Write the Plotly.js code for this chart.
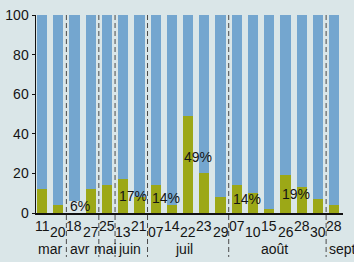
<!DOCTYPE html>
<html>
<head>
<meta charset="utf-8">
<script src="https://cdn.plot.ly/plotly-3.0.1.min.js"></script>
<style>
html,body{margin:0;padding:0;background:#dae6e8;}
#chart{width:354px;height:262px;}
</style>
</head>
<body>
<div id="chart"></div>
<script>
// Day labels for each bar
const dayLabels = ['11','20','18','27','25','13','21','07','14','22','23','29','07','10','15','26','28','30','28'];
// Green (bottom) share, %
const greenValues = [12,4,6,12,14,17,8,14,4,49,20,8,14,10,2,19,13,7,4];
// Blue (top) share, %
const blueValues = [88,96,94,88,86,83,92,86,96,51,80,92,86,90,98,81,87,93,96];
// Month labels and the bar position they sit under
const monthLabels = ['mar','avr','mai','juin','juil','août','sept'];
const monthPos = [0.5,2.36,3.93,5.41,8.76,14.32,17.56];
// Month separators (between bars)
const separators = [1.5,3.5,4.5,6.5,11.5,17.5];
// Bars carrying a percentage label
const labelledBars = [2,5,7,9,12,15];
const labelY = [3.7,8.8,7.8,28.5,7.2,9.8];
// Bars whose green segment is not drawn in the original
const hiddenGreen = [2];

const idx = dayLabels.map((_, i) => i);
const BG = '#dae6e8';
const TXT = '#141414';
const FONT = 'Liberation Sans, Arial, sans-serif';
const GREEN = '#9ca817';
const greenColors = idx.map(i => hiddenGreen.includes(i) ? 'rgba(0,0,0,0)' : GREEN);

const traces = [
  {type:'bar', x: idx, y: greenValues, marker:{color: greenColors}, width:0.63, hoverinfo:'none'},
  {type:'bar', x: idx, y: blueValues, marker:{color:'#74a6cf'}, width:0.63, hoverinfo:'none'}
];

const annotations = [];
dayLabels.forEach((d, i) => {
  annotations.push({x: i, xref:'x', y: (i % 2 === 0) ? -0.068 : -0.097, yref:'paper',
    text: d, showarrow:false, xanchor:'center', yanchor:'middle',
    font:{family:FONT, size:14, color:TXT}});
});
monthLabels.forEach((m, i) => {
  annotations.push({x: monthPos[i], xref:'x', y: -0.182, yref:'paper', text: m,
    showarrow:false, xanchor: (m === 'sept') ? 'left' : 'center', yanchor:'middle',
    font:{family:FONT, size:14, color:TXT}});
});
labelledBars.forEach((b, k) => {
  annotations.push({x: b, xref:'x', y: labelY[k], yref:'y', text: greenValues[b] + '%',
    showarrow:false, xanchor:'left', yanchor:'middle', xshift:-6,
    font:{family:FONT, size:14, color:TXT}});
});

const shapes = separators.map(s => ({
  type:'line', xref:'x', yref:'paper', x0:s, x1:s, y0:1, y1:-0.222,
  line:{color:'#4a4a4a', width:1, dash:'5px,3px'}, layer:'above'
}));

const layout = {
  width:354, height:262,
  margin:{l:36, r:11, t:15, b:49, pad:0},
  paper_bgcolor: BG, plot_bgcolor: BG,
  barmode:'stack', showlegend:false,
  font:{family:FONT, size:14, color:TXT},
  xaxis:{range:[-0.37,18.54], showticklabels:false, ticks:'', showgrid:false, zeroline:false,
    showline:true, linecolor:'#111', linewidth:1.5, fixedrange:true},
  yaxis:{range:[0,100], tickvals:[0,20,40,60,80,100], ticks:'outside', ticklen:3, tickcolor:'#111',
    showgrid:false, zeroline:false, showline:true, linecolor:'#111', linewidth:1.5,
    tickfont:{family:FONT, size:14, color:TXT}, fixedrange:true},
  annotations: annotations,
  shapes: shapes
};

Plotly.newPlot('chart', traces, layout, {displayModeBar:false, staticPlot:true});
</script>
</body>
</html>
